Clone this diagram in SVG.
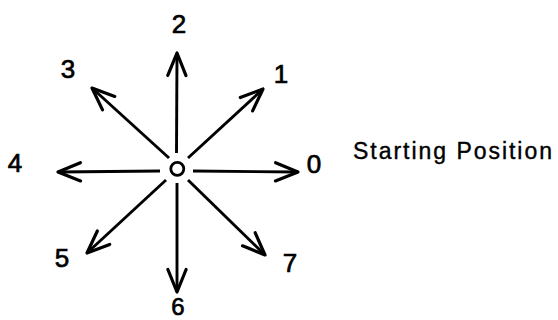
<svg xmlns="http://www.w3.org/2000/svg" width="558" height="320" viewBox="0 0 558 320">
<style>
.ln{stroke:#000;stroke-width:2.9;fill:none;marker-end:url(#ah)}
.lab{font-family:"Liberation Sans",Arial,sans-serif;font-size:26px;fill:#000;stroke:#000;stroke-width:0.7;text-anchor:middle}
.cap{font-family:"Liberation Sans",Arial,sans-serif;font-size:23px;fill:#000;stroke:#000;stroke-width:0.4}
</style>
<defs>
<marker id="ah" markerUnits="userSpaceOnUse" markerWidth="30" markerHeight="30" viewBox="-24 -12 28 24" refX="0" refY="0" orient="auto" overflow="visible">
<path d="M-21,-8.5 L0,0 L-21,8.5" fill="none" stroke="#000" stroke-width="3" stroke-linejoin="round" stroke-linecap="round"/>
</marker>
</defs>
<rect width="558" height="320" fill="#fff"/>
<g id="connectors">
<line class="ln" x1="193" y1="171" x2="298" y2="172"/>
<line class="ln" x1="160" y1="171" x2="58" y2="172"/>
<line class="ln" x1="176.5" y1="153" x2="177" y2="53"/>
<line class="ln" x1="177" y1="183" x2="177" y2="292"/>
<line class="ln" x1="188" y1="158" x2="263" y2="89"/>
<line class="ln" x1="169" y1="158" x2="92" y2="88"/>
<line class="ln" x1="166" y1="180" x2="87" y2="253"/>
<line class="ln" x1="188" y1="180" x2="265" y2="255"/>
</g>
<g id="origin">
<circle cx="177.3" cy="168.8" r="6.5" fill="none" stroke="#000" stroke-width="2.8"/>
</g>
<g id="label-0"><text class="lab" x="314" y="173">0</text></g>
<g id="label-1"><text class="lab" x="281" y="83">1</text></g>
<g id="label-2"><text class="lab" x="179" y="33">2</text></g>
<g id="label-3"><text class="lab" x="68" y="78">3</text></g>
<g id="label-4"><text class="lab" x="15" y="172">4</text></g>
<g id="label-5"><text class="lab" x="62" y="267">5</text></g>
<g id="label-6"><text class="lab" x="178" y="315" style="font-size:24px">6</text></g>
<g id="label-7"><text class="lab" x="290" y="272">7</text></g>
<g id="caption"><text class="cap" x="353" y="159" textLength="199" lengthAdjust="spacing">Starting Position</text></g>
</svg>
